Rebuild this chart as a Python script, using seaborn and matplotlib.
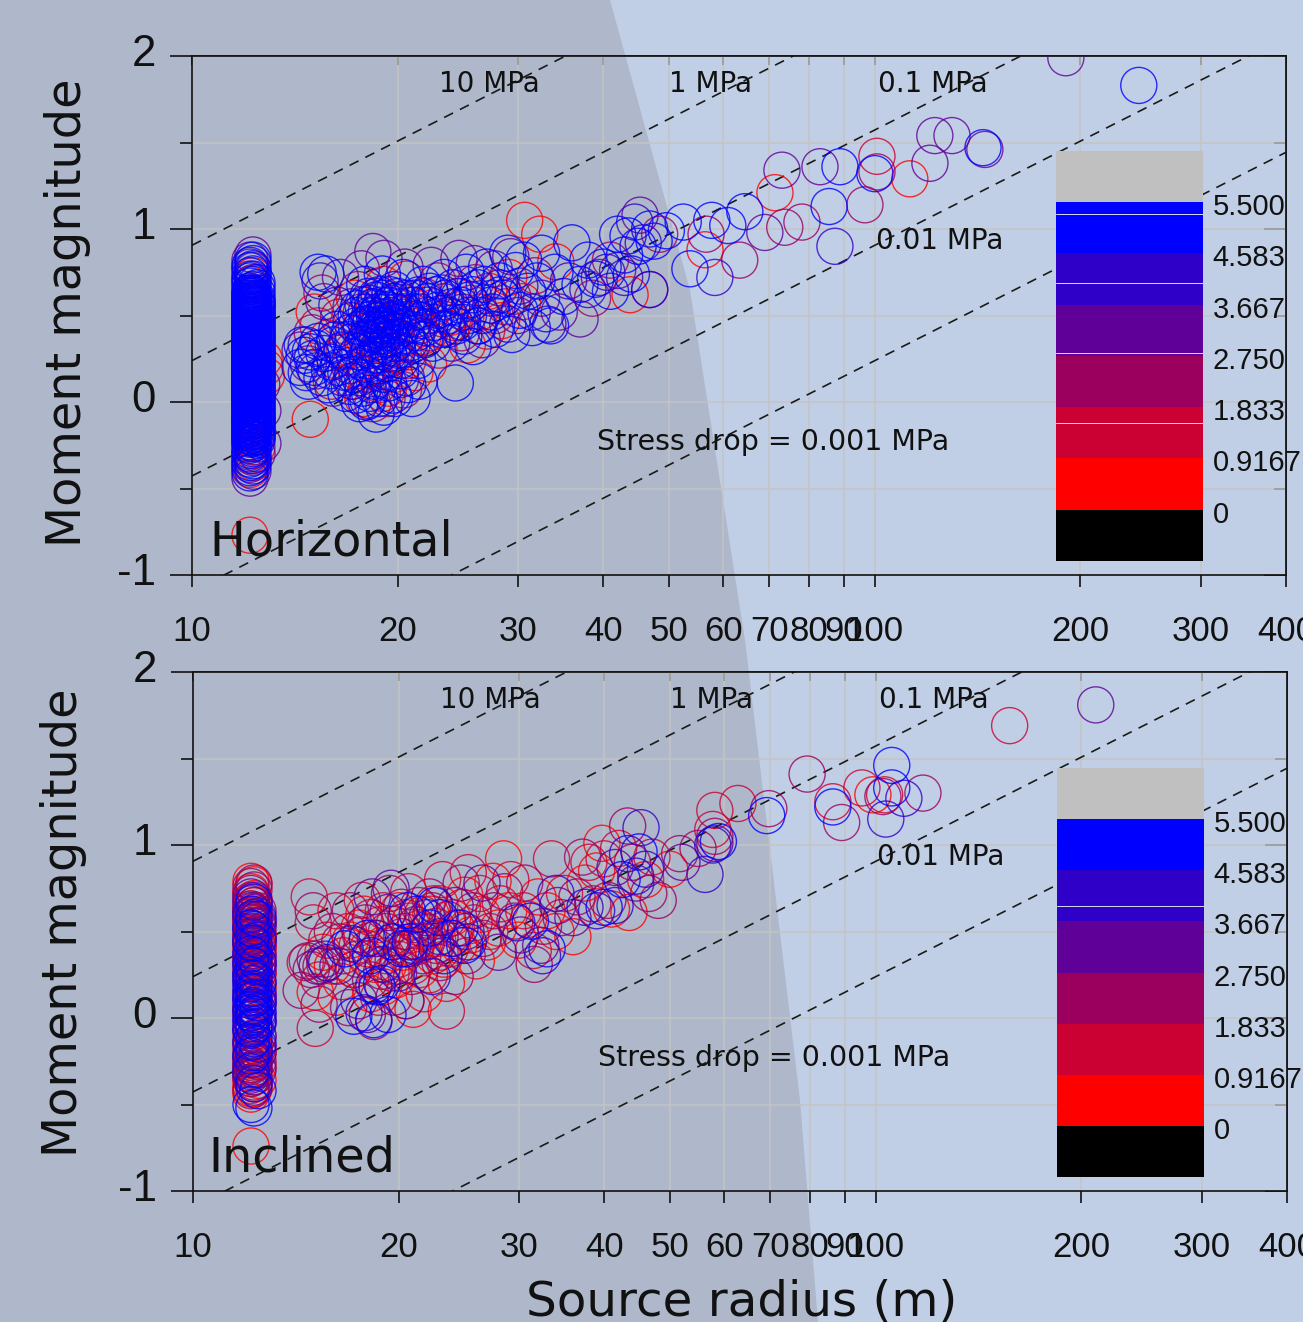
import numpy as np
import pandas as pd
import matplotlib
matplotlib.use('Agg')
import matplotlib.pyplot as plt
from matplotlib.colors import ListedColormap
from matplotlib.patches import Polygon
from matplotlib.ticker import NullLocator
from matplotlib.transforms import ScaledTranslation
import seaborn as sns

# stress drop reference lines
stress_drops = [10, 1, 0.1, 0.01, 0.001]
x_ticks = [10, 20, 30, 40, 50, 60, 70, 80, 90, 100, 200, 300, 400]
y_major = [-1, 0, 1, 2]
y_minor = [-0.5, 0.5, 1.5]
bar_labels = ['5.500', '4.583', '3.667', '2.750', '1.833', '0.9167', '0']
bar_colors = ['#000000', '#ff0000', '#cb0033', '#9b005f', '#5f0098', '#2f00c8', '#0000ff', '#c0c0c0']

col_radii = [12.16, 12.28, 12.45]

# Horizontal: the column at the smallest radius
h_col_blue_a = [-.41, -.38, -.35, -.33, -.30, -.28, -.25, -.23, -.20, -.18, -.16, -.14, -.12, -.10, -.08, -.06, -.04, -.02, .0, .02, .03, .05, .07, .08, .10, .12, .13, .15, .17, .18, .20, .22, .23, .25, .27, .28, .30, .32, .33, .35, .37, .38, .40, .42, .43, .45, .47, .49, .50, .52, .54, .56, .58, .60, .62, .64, .67, .70, .73, .76, .79,
                -.215, -.195, -.175, -.155, -.135, -.115, -.095, -.075, -.055, -.035, -.015, .005, .015, .035, .045, .06, .075, .09, .105, .115, .14, .16, .175, .19, .21, .225, .24, .26, .275, .29, .31, .325, .34, .36, .375, .39, .41, .425, .44, .46, .48, .495, .51, .53, .55, .57, .59, .61, .63]
h_col_blue_b = [-.37, -.34, -.31, -.27, -.24, -.21, -.19, -.17, -.15, -.13, -.11, -.09, -.07, -.05, -.03, -.01, .01, .03, .04, .06, .09, .11, .14, .16, .19, .21, .24, .26, .29, .31, .34, .36, .39, .41, .44, .46, .48, .51, .53, .55, .57, .59, .61, .63, .65, .68, .71, .74, .77, .80, .82,
                -.205, -.185, -.165, -.145, -.125, -.105, -.085, -.065, -.045, -.025, -.005, .015, .025, .05, .07, .085, .10, .12, .13, .15, .17, .18, .20, .22, .23, .25, .27, .28, .30, .32, .33, .35, .37, .38, .40, .42, .43, .45, .47, .49, .50, .52, .54, .56, .58, .60, .62]
h_col_blue_c = [-.22, -.18, -.15, -.12, -.09, -.06, -.03, .0, .03, .06, .09, .12, .15, .18, .21, .24, .27, .30, .33, .36, .39, .42, .45, .48, .51, .54, .57, .60, .63, .66, .69,
                -.2, -.165, -.135, -.105, -.075, -.045, -.015, .015, .045, .075, .105, .135, .165, .195, .225, .255, .285, .315, .345, .375, .405, .435, .465, .495, .525, .555, .585]
h_col_purple_a = [-.44, -.36, -.29, -.24, -.11, -.02, .07, .18, .29, .41, .52, .63, .71, .78, .82]
h_col_purple_b = [-.40, -.32, -.26, -.17, -.08, .02, .13, .24, .36, .47, .58, .69, .76, .85]
h_col_purple_c = [-.30, -.20, .05, .22, .38, .56]
h_col_red_a = [-.39, -.31, -.21, -.77, .11, .35, .68]
h_col_red_b = [-.35, -.28, -.14, .0, .2, .44, .62, .73]
h_col_red_c = [-.26, -.1, .16, .28, .5]

# Horizontal: scattered events, (radius, magnitude) for each colour
h_red = [(14.9, -.10), (30.7, 1.05), (71.4, 1.21), (112.5, 1.29), (43.8, .62), (32.3, .97), (15.8, .37), (16.2, .24), (17.1, .12), (17.8, .02), (18.3, .19), (18.9, .33), (19.4, .08), (19.9, .27), (20.3, .49), (21.2, .17), (21.8, .38), (22.7, .55), (23.6, .43), (24.4, .61), (25.3, .33), (26.4, .52), (27.2, .64), (28.4, .47), (29.1, .72), (30.5, .58), (17.3, .60), (18.5, .55), (19.1, .68), (20.6, .71), (56.4, .88), (34.1, .81), (15.1, .52), (22.2, .22), (12.8, .20), (12.85, .15), (12.75, .25), (18.6, .43), (19.2, .46), (17.9, .36), (20.9, .56), (23.9, .49)]
h_crimson = [(100.7, 1.42), (19.0, .05), (19.8, .16), (16.7, .29), (17.6, .42), (18.2, .37), (20.0, .36), (21.5, .44), (23.0, .30), (24.2, .46), (25.6, .57), (27.0, .41), (28.8, .55), (16.0, .12), (15.3, .44), (18.8, .10), (19.6, .31), (17.4, .18), (20.7, .24), (22.3, .40)]
h_maroon = [(100.7, 1.33), (96.7, 1.14), (78.2, 1.04), (73.8, 1.01), (56.6, .97), (63.4, .82), (48.4, .97), (16.4, .49), (17.2, .30), (18.0, .16), (18.7, .47), (19.6, .57), (20.8, .29), (21.9, .61), (23.3, .48), (24.8, .40), (26.0, .69), (27.8, .50), (29.5, .61), (31.8, .73), (15.0, .40), (15.5, .63), (17.5, .65), (22.9, .70), (38.6, .60), (41.0, .82), (18.4, -.01), (19.3, .02), (20.4, .07), (17.7, .52), (21.3, .48)]
h_purple = [(144.9, 1.46), (129.7, 1.54), (122.4, 1.54), (120.4, 1.38), (83.1, 1.36), (73.1, 1.34), (69.0, .98), (45.3, 1.08), (190.4, 1.99), (19.1, .83), (18.4, .87), (16.5, .72), (17.7, .77), (20.5, .78), (22.4, .79), (24.6, .83), (25.9, .80), (27.7, .77), (29.3, .84), (15.6, .58), (16.1, .08), (17.0, .21), (18.8, .27), (19.5, .42), (20.2, .13), (21.1, .52), (22.0, .37), (23.4, .58), (24.9, .52), (26.6, .36), (28.2, .66), (30.0, .50), (32.5, .60), (34.5, .52), (37.0, .48), (39.5, .72), (42.0, .76), (46.8, .65), (14.8, .22), (14.4, .30), (15.2, .18), (12.7, -.05), (12.7, -.24), (12.65, .1), (17.1, .55), (18.2, .50), (19.0, .38)]
h_indigo = [(87.4, .90), (58.3, .72), (44.5, 1.04), (46.8, .65), (15.4, .70), (14.7, .33), (16.3, .56), (17.4, .44), (18.1, .01), (18.6, .61), (19.3, .22), (20.1, .59), (21.0, .33), (22.1, .50), (23.2, .63), (24.0, .34), (25.1, .68), (26.3, .44), (27.5, .60), (29.0, .45), (30.2, .67), (31.5, .52), (33.2, .45), (35.6, .70), (38.0, .65), (40.5, .75), (43.0, .72), (45.8, .92), (18.5, .40), (19.7, .48), (17.2, .12), (20.6, .14)]
h_blue = [(243.5, 1.83), (144.0, 1.47), (88.9, 1.36), (100.0, 1.32), (85.7, 1.13), (64.5, 1.10), (60.9, 1.02), (57.7, 1.05), (52.4, 1.04), (53.6, .77), (46.8, 1.00), (43.5, .96), (14.4, .20), (14.6, .27), (14.8, .12), (15.0, .25), (15.2, .31), (15.3, .75), (15.7, .74), (15.9, .18), (16.1, .33), (16.3, .42), (16.6, .14), (16.8, .05), (16.9, .36), (17.1, .47), (17.3, .26), (17.5, .54), (17.6, -.01), (17.8, .33), (17.9, .68), (18.0, .45), (18.1, .24), (18.2, .57), (18.3, .10), (18.4, .39), (18.5, .50), (18.6, -.07), (18.7, .31), (18.8, .62), (18.9, .44), (19.0, .74), (19.1, .16), (19.2, .52), (19.3, .36), (19.4, .56), (19.5, .25), (19.6, .47), (19.7, .04), (19.8, .65), (19.9, .41), (20.0, .30), (20.2, .55), (20.4, .72), (20.6, .38), (20.8, .48), (21.0, .02), (21.2, .60), (21.4, .24), (21.6, .52), (21.8, .68), (22.0, .43), (22.2, .56), (22.5, .34), (22.8, .62), (23.1, .51), (23.4, .72), (23.7, .42), (24.0, .55), (24.3, .11), (24.6, .61), (24.9, .46), (25.2, .75), (25.5, .59), (25.8, .32), (26.2, .66), (26.6, .50), (27.0, .78), (27.4, .56), (27.8, .42), (28.2, .70), (28.6, .60), (29.0, .86), (29.4, .39), (29.8, .76), (30.2, .53), (30.6, .82), (31.0, .64), (31.5, .43), (32.0, .70), (32.5, .86), (33.0, .51), (33.5, .44), (34.0, .75), (35.0, .61), (36.0, .92), (37.0, .68), (38.0, .82), (39.0, .71), (40.0, .78), (41.0, .64), (42.0, .97), (43.0, .85), (44.0, .74), (45.0, .90), (47.5, .93), (49.5, .99)]
# the dense middle of the Horizontal cloud
h_blue_core = [(17.0, .40), (17.2, .35), (17.4, .50), (17.5, .29), (17.7, .43), (17.8, .56), (17.9, .22), (18.0, .37), (18.0, .52), (18.1, .61), (18.2, .30), (18.2, .44), (18.3, .48), (18.4, .55), (18.4, .34), (18.5, .27), (18.5, .42), (18.6, .47), (18.6, .59), (18.7, .38), (18.7, .52), (18.8, .45), (18.8, .21), (18.9, .35), (18.9, .56), (19.0, .42), (19.0, .29), (19.1, .49), (19.1, .60), (19.2, .33), (19.2, .44), (19.3, .53), (19.4, .40), (19.4, .28), (19.5, .50), (19.5, .62), (19.6, .37), (19.7, .44), (19.7, .58), (19.8, .34), (19.9, .52), (20.0, .46), (20.0, .61), (20.1, .37), (20.2, .24), (20.3, .43), (20.5, .52), (20.6, .60), (20.8, .34), (21.0, .45), (21.1, .56), (21.3, .40), (21.5, .62), (21.7, .47), (21.9, .36), (22.1, .58), (22.3, .64), (22.6, .46), (22.9, .53), (23.2, .42), (23.5, .60), (23.8, .50), (24.1, .66), (24.4, .44), (24.7, .56), (25.0, .38), (25.4, .50), (25.8, .62), (26.2, .44), (26.8, .68), (27.5, .52), (28.3, .62), (14.5, .33), (14.7, .17), (14.9, .29), (15.1, .20), (15.3, .35), (15.5, .14), (15.6, .28), (15.8, .10), (16.0, .23), (16.2, .36), (16.4, .20), (16.6, .30), (16.8, .17), (17.0, .09), (17.2, .16), (17.4, .04), (17.6, .14), (17.8, .08), (18.0, .00), (18.2, .05), (18.5, .12), (18.8, .02), (19.1, -.03), (19.4, .11), (19.8, .02), (20.2, .18), (20.7, .10), (21.5, .12)]

# Inclined: the column at the smallest radius
i_col_blue_a = [-.50, -.31, -.22, -.14, -.07, -.01, .05, .10, .15, .20, .25, .31, .37, .44, .52, .60, -.06, .03, .12, .23]
i_col_blue_b = [-.52, -.38, -.20, -.12, -.05, .01, .06, .11, .17, .23, .30, .36, .43, .51, .58, .67, .02, .07, .15]
i_col_blue_c = [-.42, -.15, -.03, .04, .12, .21, .32, .45, .57, -.01, .09]
i_col_purple_a = [-.33, -.24, -.13, -.03, .07, .17, .27, .37, .47, .57, .66, .70, -.28, -.2, .32, .43, .52, .62]
i_col_purple_b = [-.40, -.29, -.19, -.06, .04, .12, .24, .35, .42, .53, .61, .68, -.34, -.24, .3, .39, .48, .57]
i_col_purple_c = [-.3, -.11, .02, .15, .29, .46, .59, -.2, .36, .53]
i_col_maroon_a = [-.42, -.35, -.27, -.17, -.09, .0, .06, .11, .21, .3, .39, .46, .55, .63, .72, .76, -.3, -.22, .26, .34, .43, .5, .59, .68]
i_col_maroon_b = [-.37, -.3, -.21, -.14, -.04, .05, .16, .25, .34, .44, .5, .6, .65, .74, .78, -.26, -.18, .2, .28, .38, .47, .55, .62]
i_col_maroon_c = [-.25, -.1, .08, .2, .31, .41, .49, .62, -.17, .26, .36, .45, .55]
i_col_red_a = [-.44, -.39, -.32, -.23, -.15, -.06, .03, .14, .24, .33, .42, .52, .59, .67, -.74, .79, -.41, -.35, -.27, .47, .56, .63, .73]
i_col_red_b = [-.41, -.34, -.25, -.16, -.07, .02, .1, .22, .29, .38, .49, .56, .69, .77, -.38, -.3, .33, .43, .53, .65]
i_col_red_c = [-.36, -.2, -.02, .09, .18, .26, .4, .43, .54, -.28, .13, .32, .48]

# Inclined: scattered events
i_red = [(99.0, 1.29), (39.7, 1.01), (49.9, .86), (15.1, .15), (15.5, .38), (16.0, .30), (16.5, .21), (17.0, .45), (17.5, .52), (18.0, .40), (18.5, .31), (19.0, .18), (19.5, .44), (20.0, .62), (20.5, .10), (21.0, .05), (21.5, .28), (22.0, .50), (22.5, .36), (23.0, .66), (23.5, .20), (24.0, .58), (24.5, .42), (25.0, .71), (25.5, .48), (26.0, .33), (26.5, .60), (27.0, .44), (27.5, .79), (28.0, .52), (28.5, .92), (29.0, .62), (30.0, .45), (31.0, .57), (32.0, .70), (33.0, .62), (34.0, .50), (36.0, .47), (37.5, .78), (39.0, .85), (41.0, .63), (43.5, .61), (46.0, .80), (16.2, .12), (17.2, .28), (17.8, .60), (18.2, .14), (18.8, .54), (19.3, .30), (19.8, .22), (20.3, .38), (20.8, .56), (21.3, .44), (21.8, .14), (22.3, .60), (22.8, .46), (23.3, .34)]
i_crimson = [(157.0, 1.69), (95.4, 1.33), (86.5, 1.25), (103.0, 1.29), (62.8, 1.24), (58.1, 1.20), (57.7, 1.09), (15.1, -.06), (23.5, .04), (14.6, .32), (14.8, .70), (15.0, .55), (15.3, .22), (15.7, .45), (16.2, .62), (16.6, .36), (17.2, .28), (17.7, .68), (18.2, .58), (18.7, .12), (19.2, .36), (19.7, .54), (20.2, .47), (20.7, .73), (21.2, .41), (21.7, .60), (22.2, .25), (22.7, .53), (23.2, .80), (23.8, .40), (24.3, .52), (24.8, .64), (25.3, .84), (25.8, .55), (26.3, .72), (27.2, .50), (28.2, .66), (29.2, .80), (30.5, .62), (31.5, .39), (33.5, .92), (35.0, .72), (38.0, .90), (40.0, .92), (42.0, .98), (47.0, .93), (16.9, .50), (17.4, .42), (18.0, .34), (18.5, .46), (19.0, .62), (19.5, .26), (20.0, .34), (20.5, .58), (21.0, .30), (21.5, .52), (22.0, .44), (22.5, .66), (23.0, .38), (24.0, .46)]
i_maroon = [(79.3, 1.41), (69.7, 1.21), (89.1, 1.13), (102.4, 1.28), (117.2, 1.30), (43.3, 1.11), (58.1, 1.05), (54.9, .98), (51.6, .95), (37.2, .93), (14.4, .16), (14.7, .33), (15.0, .62), (15.3, .08), (15.6, .31), (16.0, .50), (16.4, .44), (16.9, .06), (17.4, .34), (17.9, .55), (18.4, -.02), (18.9, .27), (19.4, .72), (19.9, .30), (20.4, .50), (20.9, .24), (21.4, .65), (21.9, .44), (22.4, .62), (23.0, .32), (23.6, .57), (24.2, .24), (24.7, .78), (25.2, .36), (25.7, .62), (26.6, .46), (27.6, .62), (28.6, .73), (29.6, .56), (30.6, .78), (31.6, .31), (32.6, .53), (34.6, .58), (36.5, .70), (38.5, .66), (40.5, .68), (44.0, .90), (46.5, .72), (48.0, .68), (14.9, .28), (15.1, .34), (15.4, .30), (17.0, .62), (17.6, .48), (18.2, .22), (18.7, .40), (19.2, .50), (19.7, .12), (20.2, .64), (20.7, .40), (21.2, .54), (21.7, .36), (22.2, .70), (22.7, .42)]
i_purple = [(209.9, 1.81), (58.1, 1.01), (16.3, .30), (17.5, .10), (18.0, .02), (18.6, .46), (19.3, .61), (20.0, .26), (21.0, .42), (22.0, .58), (23.0, .47), (24.2, .65), (25.1, .50), (26.5, .78), (28.0, .38), (30.2, .48), (32.3, .42), (34.2, .65), (36.0, .58), (41.5, .87), (44.5, .78), (52.0, .90), (18.3, .70), (19.5, .75), (15.2, .30), (15.6, .34), (20.5, .10)]
i_indigo = [(109.9, 1.27), (103.4, 1.15), (56.2, .83), (57.7, 1.00), (45.3, 1.10), (43.3, .95), (44.5, .82), (46.0, .86), (41.5, .65), (39.0, .62), (37.5, .64), (34.0, .72), (32.5, .36), (17.8, .03), (19.0, .31), (20.5, .40), (23.3, .36), (25.3, .44), (29.8, .55), (15.7, .32), (17.1, .43), (18.4, .19), (22.4, .24)]
i_blue = [(105.5, 1.46), (105.5, 1.33), (86.5, 1.22), (69.2, 1.17), (58.8, 1.02), (45.0, .96), (42.5, .80), (40.0, .64), (17.2, .01), (18.4, -.01), (18.9, .20), (16.7, .40), (18.0, .46), (19.3, .02), (20.2, .40), (20.8, .44), (22.2, .52), (23.0, .58), (23.9, .46), (24.6, .52), (25.0, .42), (22.6, .65), (21.3, .60), (31.2, .56), (33.0, .40), (18.6, .18), (19.6, .44), (18.2, .36), (20.6, .62)]

level_names = ['red', 'crimson', 'maroon', 'purple', 'indigo', 'blue']
level_colors = dict(zip(level_names, bar_colors[1:7]))


def points(level, pairs):
    return pd.DataFrame(pairs, columns=['radius', 'mag']).assign(level=level)


def column(level, groups):
    # one list of magnitudes for each of the three column radii
    return pd.concat([pd.DataFrame({'radius': r, 'mag': m, 'level': level}) for r, m in zip(col_radii, groups)])


df_h = pd.concat([
    points('red', h_red), column('red', [h_col_red_a, h_col_red_b, h_col_red_c]),
    points('crimson', h_crimson), points('maroon', h_maroon),
    points('purple', h_purple), column('purple', [h_col_purple_a, h_col_purple_b, h_col_purple_c]),
    points('indigo', h_indigo),
    points('blue', h_blue), points('blue', h_blue_core), column('blue', [h_col_blue_a, h_col_blue_b, h_col_blue_c]),
])
df_i = pd.concat([
    points('red', i_red), column('red', [i_col_red_a, i_col_red_b, i_col_red_c]),
    points('crimson', i_crimson),
    points('maroon', i_maroon), column('maroon', [i_col_maroon_a, i_col_maroon_b, i_col_maroon_c]),
    points('purple', i_purple), column('purple', [i_col_purple_a, i_col_purple_b, i_col_purple_c]),
    points('indigo', i_indigo),
    points('blue', i_blue), column('blue', [i_col_blue_a, i_col_blue_b, i_col_blue_c]),
])

sns.set_style('ticks')
plt.rcParams['font.family'] = ['Liberation Sans', 'DejaVu Sans']

W, H = 1303, 1322
INK = '#111111'
fig = plt.figure(figsize=(W / 100, H / 100), dpi=100, facecolor='#c1cfe6')
# darker wedge behind the left of the picture
fig.add_artist(Polygon([(0, 1), (610 / W, 1), (690 / W, 1 - 290 / H), (745 / W, 1 - 640 / H),
                        (800 / W, 1 - 1100 / H), (818 / W, 0), (0, 0)],
                       transform=fig.transFigure, facecolor='#aeb8ca', edgecolor='none', zorder=-5))


def add_px_axes(left, top, right, bottom, **kw):
    return fig.add_axes([left / W, 1 - bottom / H, (right - left) / W, (bottom - top) / H], **kw)


def draw_panel(df, box, bar_box, name, name_px, ylabel_px):
    ax = add_px_axes(*box)
    ax.patch.set_alpha(0)
    ax.set_xscale('log')
    ax.set_xlim(10, 400)
    ax.set_ylim(-1, 2)

    r_line = np.array([10.0, 400.0])
    for sd in stress_drops:
        # M0 = 16/7 * stress drop * r^3
        mw = (np.log10(16 / 7 * sd * 1e6 * r_line ** 3) - 9.0) / 1.5
        ax.plot(r_line, mw, color='#1a1a1a', lw=1.2, ls=(0, (6, 4.6)), zorder=2)

    for lev in level_names:
        sub = df[df['level'] == lev]
        sns.scatterplot(data=sub, x='radius', y='mag', ax=ax, s=675, facecolors='none',
                        edgecolor=level_colors[lev], linewidth=1.0, alpha=0.8, zorder=3)
    ax.set_xlabel('')
    ax.set_ylabel('')

    ax.set_xticks(x_ticks)
    ax.set_xticklabels([str(t) for t in x_ticks], fontsize=25, color=INK)
    ax.xaxis.set_minor_locator(NullLocator())
    ax.set_yticks(y_major)
    ax.set_yticklabels(['-1', '0', '1', '2'], fontsize=31.5, color=INK)
    ax.set_yticks(y_minor, minor=True)
    ax.grid(True, which='both', color='#c4c4c2', lw=1.1, zorder=0)
    ax.set_axisbelow(True)
    ax.tick_params(axis='x', which='major', length=8.6, width=1.2, pad=20, color=INK)
    ax.tick_params(axis='y', which='major', length=16, width=1.2, pad=10, color=INK)
    ax.tick_params(axis='y', which='minor', length=8.6, width=1.2, color=INK)
    # the magnitude labels sit a little above their ticks
    lift = ScaledTranslation(0, 4 / 72, fig.dpi_scale_trans)
    for lab in ax.get_yticklabels():
        lab.set_transform(lab.get_transform() + lift)
    for spine in ax.spines.values():
        spine.set_linewidth(1.2)
        spine.set_color(INK)
        spine.set_visible(True)

    top_ax = ax.secondary_xaxis('top')
    top_ax.set_xticks(x_ticks)
    top_ax.xaxis.set_minor_locator(NullLocator())
    top_ax.tick_params(axis='x', direction='in', length=6.5, width=1.2, labeltop=False, color=INK)
    top_ax.spines['top'].set_linewidth(1.2)
    right_ax = ax.secondary_yaxis('right')
    right_ax.set_yticks(y_major)
    right_ax.set_yticks(y_minor, minor=True)
    right_ax.tick_params(axis='y', which='major', direction='in', length=16, width=1.2, labelright=False, color=INK)
    right_ax.tick_params(axis='y', which='minor', direction='in', length=8.6, width=1.2, color=INK)
    right_ax.spines['right'].set_linewidth(1.2)

    dv = {'family': 'DejaVu Sans', 'va': 'center', 'color': INK, 'fontsize': 20, 'zorder': 4}
    ax.text(23.0, 1.84, '10 MPa', **dv)
    ax.text(49.9, 1.84, '1 MPa', **dv)
    ax.text(101, 1.84, '0.1 MPa', **dv)
    ax.text(100.3, 0.93, '0.01 MPa', **dv)
    ax.text(39.2, -0.23, 'Stress drop = 0.001 MPa', **{**dv, 'fontsize': 20.5})

    fig.text(name_px[0] / W, 1 - name_px[1] / H, name, family='DejaVu Sans', fontsize=34.4, color=INK, va='baseline')
    fig.text(ylabel_px[0] / W, 1 - ylabel_px[1] / H, 'Moment magnitude', family='DejaVu Sans',
             fontsize=34.4, rotation=90, ha='center', va='center', color=INK)

    # colour key
    bar_ax = add_px_axes(*bar_box)
    sns.heatmap(np.arange(8)[::-1].reshape(-1, 1), ax=bar_ax, cmap=ListedColormap(bar_colors), cbar=False,
                xticklabels=False, linewidths=0)
    bar_ax.yaxis.tick_right()
    bar_ax.set_yticks(np.arange(1, 8))
    bar_ax.set_yticklabels(bar_labels, rotation=0, fontsize=21, color=INK, va='center')
    bar_ax.tick_params(axis='y', length=0, pad=7)
    # the key labels sit just under the colour boundaries
    drop = ScaledTranslation(0, -3.6 / 72, fig.dpi_scale_trans)
    for lab in bar_ax.get_yticklabels():
        lab.set_transform(lab.get_transform() + drop)
    bar_ax.set_zorder(5)
    return ax, bar_ax


ax1, bar1 = draw_panel(df_h, (192, 56, 1286, 575), (1056, 151, 1203, 561), 'Horizontal', (209, 555), (68, 313))
ax2, bar2 = draw_panel(df_i, (193, 672, 1287, 1191), (1057, 768, 1204, 1177), 'Inclined', (208, 1171), (64, 923))

# thin pale lines across the colour key
for y in [1.22, 2.58, 3.95, 5.30]:
    bar1.axhline(y, color='#d8dcf0', lw=0.7)
bar2.axhline(2.70, color='#d8dcf0', lw=0.7)

fig.text(742 / W, 1 - 1303 / H, 'Source radius (m)', family='DejaVu Sans', fontsize=34.8, ha='center', va='center', color=INK)

plt.savefig('out.png', dpi=100, facecolor=fig.get_facecolor())
